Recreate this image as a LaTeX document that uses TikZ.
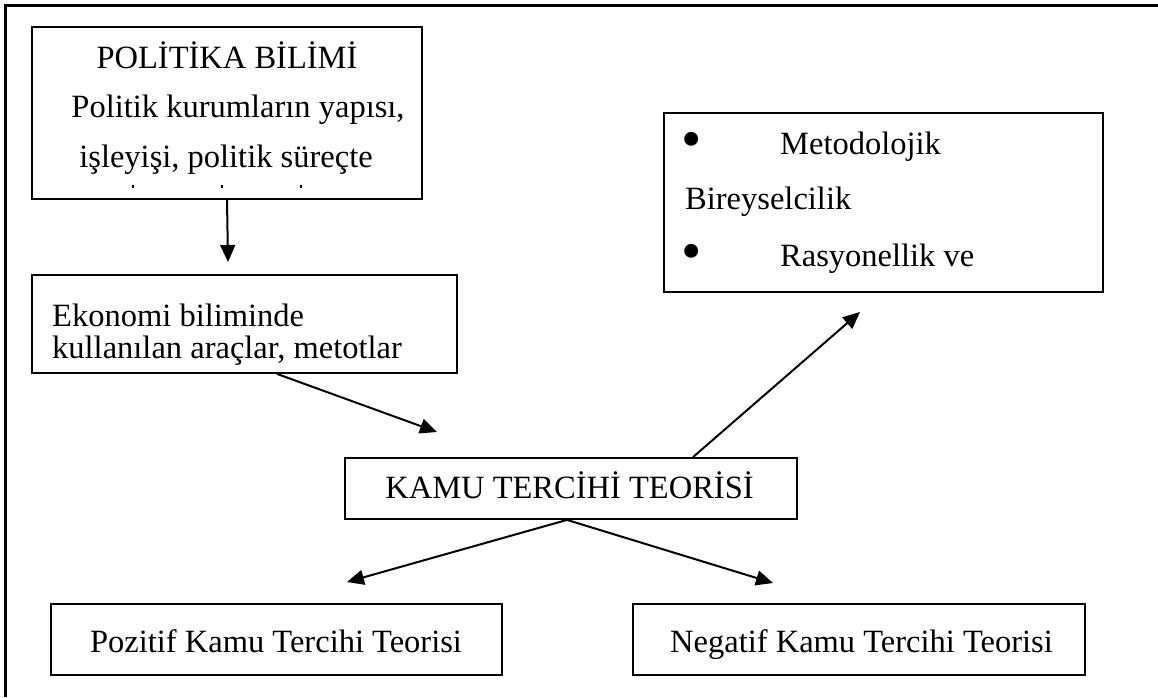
\documentclass[tikz,border=0pt]{standalone}
\usepackage{fontspec}
\setmainfont{Liberation Serif}
\usetikzlibrary{arrows.meta}
\begin{document}
\begin{tikzpicture}[x=1pt,y=-1pt,
  box/.style={draw,line width=1.8pt,inner sep=0pt},
  txt/.style={inner sep=0pt,font=\fontsize{32.5}{38}\selectfont},
  bul/.style={inner sep=0pt,font=\fontsize{58}{60}\selectfont},
  arr/.style={line width=2pt,-{Triangle[length=17pt,width=15pt]}}]
\useasboundingbox (0,0) rectangle (1158,697);
% outer frame (top and left only)
\draw[line width=3pt] (5,697) -- (5,5) -- (1158,5);
% boxes
\node[box,minimum width=390pt,minimum height=172pt] (pol) at (227,113) {};
\node[box,minimum width=425pt,minimum height=98pt] (eko) at (244.5,324) {};
\node[box,minimum width=439pt,minimum height=179pt] (met) at (883.5,202.5) {};
\node[box,minimum width=452pt,minimum height=61pt] (kamu) at (571,488.5) {};
\node[box,minimum width=451pt,minimum height=71pt] (poz) at (276.5,639.5) {};
\node[box,minimum width=452pt,minimum height=71pt] (neg) at (859,639.5) {};
% texts
\node[txt,anchor=base] (t1) at (227,68) {POLİTİKA BİLİMİ};
\node[txt,anchor=base] (t2) at (238,117) {Politik kurumların yapısı,};
\node[txt,anchor=base] (t3) at (226,167) {işleyişi, politik süreçte};
\fill (131.5,184.5) rectangle (134,187.5);
\fill (220.5,184.5) rectangle (223,187.5);
\fill (299.5,184.5) rectangle (302,187.5);
\node[txt,anchor=base west] (t4) at (52,326) {Ekonomi biliminde};
\node[txt,anchor=base west] (t5) at (52,358) {kullanılan araçlar, metotlar};
\node[txt,anchor=base] (t6) at (569.5,498) {KAMU TERCİHİ TEORİSİ};
\node[bul,anchor=center] (b1) at (692,145) {•};
\node[txt,anchor=base west] (t7) at (780,154) {Metodolojik};
\node[txt,anchor=base west] (t8) at (685,209) {Bireyselcilik};
\node[bul,anchor=center] (b2) at (692,257) {•};
\node[txt,anchor=base west] (t9) at (780,266) {Rasyonellik ve};
\node[txt,anchor=base] (t10) at (276,652) {Pozitif Kamu Tercihi Teorisi};
\node[txt,anchor=base] (t11) at (861.5,652) {Negatif Kamu Tercihi Teorisi};
% arrow ends
\coordinate (e1) at (228,262);
\coordinate (e2) at (437,432);
\coordinate (e3) at (860,312);
\coordinate (e4) at (347,582);
\coordinate (e5) at (773,583);
\draw[arr] (pol.south) -- (e1);
\draw[arr] ([xshift=32.5pt]eko.south) -- (e2);
\draw[arr] ([xshift=122pt]kamu.north) -- (e3);
\draw[arr] ([xshift=-4pt]kamu.south) -- (e4);
\draw[arr] ([xshift=-4pt]kamu.south) -- (e5);
\end{tikzpicture}
\end{document}
